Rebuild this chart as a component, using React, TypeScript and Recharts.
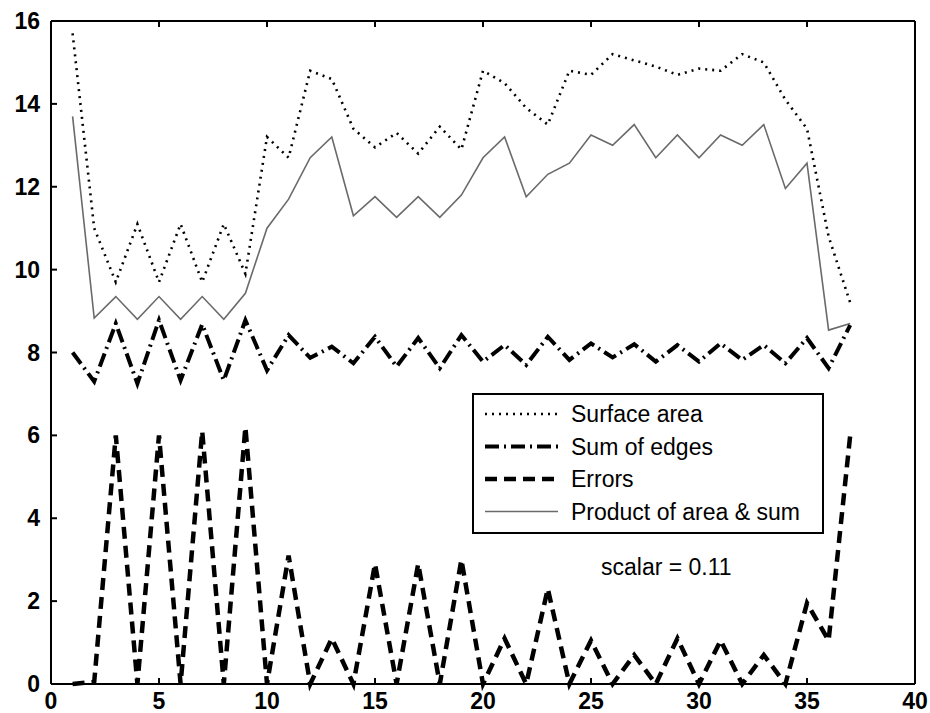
import { LineChart, Line, XAxis, YAxis, Legend } from "recharts";

// iteration steps on the x axis
const steps = [
  1, 2, 3, 4, 5, 6, 7, 8, 9, 10, 11, 12, 13, 14, 15, 16, 17, 18, 19, 20,
  21, 22, 23, 24, 25, 26, 27, 28, 29, 30, 31, 32, 33, 34, 35, 36, 37,
];

const surfaceArea = [
  15.7, 11.0, 9.7, 11.1, 9.7, 11.1, 9.7, 11.1, 9.9, 13.2, 12.7, 14.8, 14.6,
  13.4, 12.95, 13.3, 12.8, 13.45, 12.9, 14.8, 14.5, 13.9, 13.5, 14.8, 14.7,
  15.2, 15.05, 14.9, 14.7, 14.85, 14.8, 15.2, 15.0, 14.1, 13.4, 10.8, 9.2,
];

const sumOfEdges = [
  8.0, 7.3, 8.7, 7.25, 8.78, 7.33, 8.68, 7.33, 8.78, 7.57, 8.42, 7.87, 8.14,
  7.74, 8.38, 7.66, 8.35, 7.62, 8.42, 7.78, 8.18, 7.7, 8.38, 7.82, 8.22, 7.88,
  8.2, 7.78, 8.18, 7.78, 8.22, 7.82, 8.18, 7.74, 8.35, 7.62, 8.66,
];

const errors = [
  0, 0.05, 6.0, 0, 6.0, 0, 6.1, 0, 6.2, 0, 3.1, 0, 1.1, 0, 2.9, 0, 2.9, 0,
  3.0, 0, 1.1, 0, 2.3, 0, 1.05, 0, 0.7, 0, 1.1, 0, 1.05, 0, 0.7, 0, 1.95,
  1.05, 6.0,
];

const product = [
  13.7, 8.83, 9.35, 8.8, 9.35, 8.8, 9.35, 8.8, 9.43, 11.0, 11.7, 12.7, 13.2,
  11.3, 11.76, 11.26, 11.76, 11.26, 11.8, 12.7, 13.2, 11.76, 12.3, 12.57,
  13.25, 13.0, 13.5, 12.7, 13.25, 12.7, 13.25, 13.0, 13.5, 11.96, 12.57,
  8.54, 8.7,
];

const xTicks = [0, 5, 10, 15, 20, 25, 30, 35, 40];
const yTicks = [0, 2, 4, 6, 8, 10, 12, 14, 16];

const data = steps.map((x, i) => ({
  x,
  surface: surfaceArea[i],
  edges: sumOfEdges[i],
  errors: errors[i],
  product: product[i],
}));

const FONT = "'Liberation Sans', Arial, sans-serif";
const TICK_LEN = 6;

function BottomTick({ x, y, payload }: any) {
  return (
    <g>
      <line x1={x} x2={x} y1={y} y2={y - TICK_LEN} stroke="#000" strokeWidth={2} />
      <text
        x={x}
        y={y + 17}
        textAnchor="middle"
        dominantBaseline="central"
        fontFamily={FONT}
        fontSize={23}
        fontWeight="bold"
        fill="#000"
      >
        {payload.value}
      </text>
    </g>
  );
}

function LeftTick({ x, y, payload }: any) {
  return (
    <g>
      <line x1={x} x2={x + TICK_LEN} y1={y} y2={y} stroke="#000" strokeWidth={2} />
      <text
        x={x - 11}
        y={y}
        textAnchor="end"
        dominantBaseline="central"
        fontFamily={FONT}
        fontSize={23}
        fontWeight="bold"
        fill="#000"
      >
        {payload.value}
      </text>
    </g>
  );
}

function TopTick({ x, y }: any) {
  return <line x1={x} x2={x} y1={y} y2={y + TICK_LEN} stroke="#000" strokeWidth={2} />;
}

function RightTick({ x, y }: any) {
  return <line x1={x} x2={x - TICK_LEN} y1={y} y2={y} stroke="#000" strokeWidth={2} />;
}

const legendOrder = ["surface", "edges", "errors", "product"];

function LegendBox({ payload }: any) {
  const items = legendOrder
    .map((k) => (payload || []).find((p: any) => p.dataKey === k))
    .filter(Boolean);
  return (
    <svg width={352} height={200} style={{ overflow: "visible", display: "block" }}>
      <rect x={1} y={1} width={350} height={139} fill="#fff" stroke="#000" strokeWidth={2} />
      {items.map((item: any, i: number) => {
        const cy = 21 + i * 32.5;
        const p = item.payload || {};
        return (
          <g key={item.dataKey}>
            <line
              x1={13}
              x2={86}
              y1={cy}
              y2={cy}
              stroke={item.color}
              strokeWidth={p.strokeWidth}
              strokeDasharray={p.strokeDasharray}
            />
            <text
              x={99}
              y={cy}
              dominantBaseline="central"
              fontFamily={FONT}
              fontSize={23}
              fill="#000"
            >
              {item.value}
            </text>
          </g>
        );
      })}
      <text
        x={129}
        y={174}
        dominantBaseline="central"
        fontFamily={FONT}
        fontSize={23}
        fill="#000"
      >
        scalar = 0.11
      </text>
    </svg>
  );
}

export default function App() {
  return (
    <div style={{ position: "absolute", left: 0, top: 0, background: "#fff" }}>
      <LineChart
        width={930}
        height={713}
        data={data}
        margin={{ top: 20, right: 14, bottom: 0, left: 0 }}
      >
        <XAxis
          dataKey="x"
          type="number"
          domain={[0, 40]}
          ticks={xTicks}
          interval={0}
          height={29}
          tickSize={0}
          tickMargin={0}
          tickLine={false}
          tick={BottomTick}
          axisLine={{ stroke: "#000", strokeWidth: 2 }}
        />
        <XAxis
          xAxisId="top"
          orientation="top"
          dataKey="x"
          type="number"
          domain={[0, 40]}
          ticks={xTicks}
          interval={0}
          height={1}
          tickSize={0}
          tickMargin={0}
          tickLine={false}
          tick={TopTick}
          axisLine={{ stroke: "#000", strokeWidth: 2 }}
        />
        <YAxis
          type="number"
          domain={[0, 16]}
          ticks={yTicks}
          interval={0}
          width={51}
          tickSize={0}
          tickMargin={0}
          tickLine={false}
          tick={LeftTick}
          axisLine={{ stroke: "#000", strokeWidth: 2 }}
        />
        <YAxis
          yAxisId="right"
          orientation="right"
          type="number"
          domain={[0, 16]}
          ticks={yTicks}
          interval={0}
          width={1}
          tickSize={0}
          tickMargin={0}
          tickLine={false}
          tick={RightTick}
          axisLine={{ stroke: "#000", strokeWidth: 2 }}
        />
        <Legend
          content={LegendBox}
          layout="horizontal"
          verticalAlign="middle"
          align="center"
          wrapperStyle={{ position: "absolute", left: 472, top: 393, width: 352, height: 200 }}
        />
        <Line
          type="linear"
          dataKey="product"
          name="Product of area & sum"
          stroke="#6a6a6a"
          strokeWidth={1.6}
          dot={false}
          isAnimationActive={false}
        />
        <Line
          type="linear"
          dataKey="surface"
          name="Surface area"
          stroke="#000"
          strokeWidth={2.6}
          strokeDasharray="2 5"
          dot={false}
          isAnimationActive={false}
        />
        <Line
          type="linear"
          dataKey="edges"
          name="Sum of edges"
          stroke="#000"
          strokeWidth={4}
          strokeDasharray="14 5 2 5"
          dot={false}
          isAnimationActive={false}
        />
        <Line
          type="linear"
          dataKey="errors"
          name="Errors"
          stroke="#000"
          strokeWidth={4.5}
          strokeDasharray="12 7"
          dot={false}
          isAnimationActive={false}
        />
      </LineChart>
    </div>
  );
}
